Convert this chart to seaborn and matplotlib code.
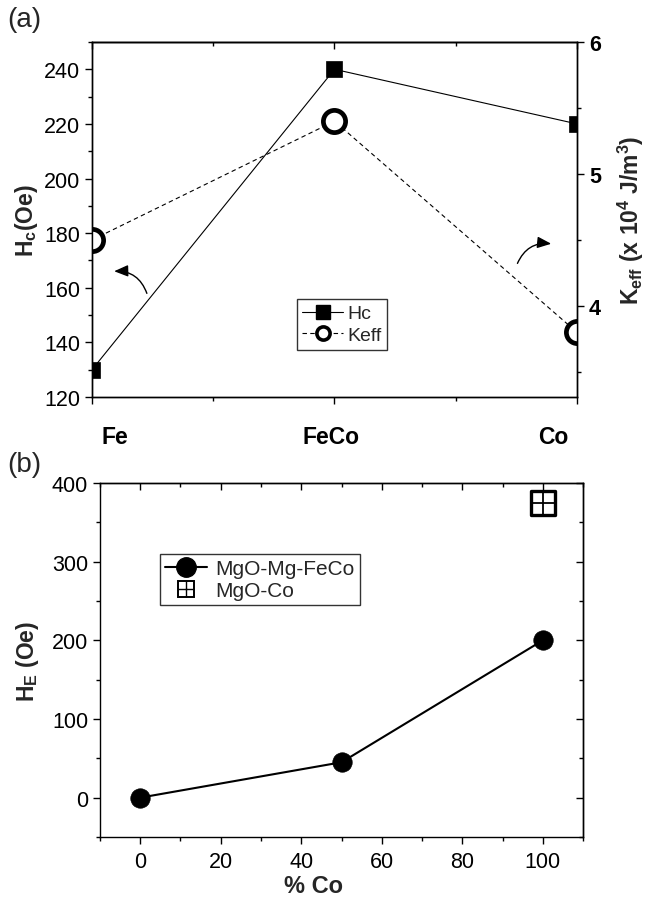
import numpy as np
import matplotlib
matplotlib.use('Agg')
import matplotlib.pyplot as plt
import seaborn as sns
from matplotlib.lines import Line2D
from matplotlib.legend_handler import HandlerTuple
from matplotlib.ticker import MultipleLocator
from matplotlib.transforms import ScaledTranslation

# --- data ---
# panel (a)
samples = ['Fe', 'FeCo', 'Co']
sample_pos = [0, 1, 2]
hc_values = [130, 240, 220]          # Oe
keff_values = [4.5, 5.4, 3.8]        # x 10^4 J/m^3

# panel (b)
co_percent = [0, 50, 100]
he_fecol = [0, 45, 200]              # MgO-Mg-FeCo
co_only_x = [100]
co_only_he = [375]                   # MgO-Co

sns.set_theme(style='ticks')
plt.rcParams['font.family'] = ['Liberation Sans', 'DejaVu Sans']
plt.rcParams['mathtext.fontset'] = 'custom'
plt.rcParams['mathtext.rm'] = 'Liberation Sans'
plt.rcParams['mathtext.bf'] = 'Liberation Sans:bold'
plt.rcParams['mathtext.default'] = 'bf'
plt.rcParams['axes.linewidth'] = 1.0
plt.rcParams['axes.edgecolor'] = 'black'
plt.rcParams['xtick.color'] = 'black'
plt.rcParams['ytick.color'] = 'black'

fig = plt.figure(figsize=(6.45, 9.03), dpi=100)
ax1 = fig.add_axes([0.1426, 0.5592, 0.752, 0.3932])
ax2 = fig.add_axes([0.155, 0.072, 0.749, 0.392])

TICK = 15.5
LABEL = 16.5


def style_ticks(ax, axis, direction, labelsize, major=5, minor=3):
    ax.tick_params(axis=axis, which='major', direction=direction, length=major,
                   width=1.0, labelsize=labelsize, colors='black')
    ax.tick_params(axis=axis, which='minor', direction=direction, length=minor,
                   width=1.0)


# --- panel (a) ---
sns.lineplot(x=sample_pos, y=hc_values, ax=ax1, color='black', linewidth=0.8,
             marker='s', markersize=12, markerfacecolor='black',
             markeredgecolor='black', markeredgewidth=0.5)
ax1.set_xlim(0, 2)
ax1.set_ylim(120, 250)
ax1.set_yticks(np.arange(120, 241, 20))
ax1.yaxis.set_minor_locator(MultipleLocator(10))
ax1.set_xticks(sample_pos)
ax1.set_xticklabels(samples, fontweight='bold', fontsize=16.5)
ax1.xaxis.set_minor_locator(MultipleLocator(0.5))
style_ticks(ax1, 'y', 'out', TICK)
style_ticks(ax1, 'x', 'out', 16.5)
ax1.tick_params(axis='x', which='major', pad=15)
ax1.set_ylabel('H$_c$(Oe)', fontsize=LABEL, fontweight='bold', labelpad=3)
for lbl, dx in zip(ax1.get_xticklabels(), [23, -3, -24]):
    lbl.set_transform(lbl.get_transform() + ScaledTranslation(dx / 100, 0, fig.dpi_scale_trans))

top1 = ax1.secondary_xaxis('top')
top1.set_xticks(sample_pos)
top1.xaxis.set_minor_locator(MultipleLocator(0.5))
top1.set_xticklabels([])
style_ticks(top1, 'x', 'in', 10)

ax1r = ax1.twinx()
sns.lineplot(x=sample_pos, y=keff_values, ax=ax1r, color='black', linewidth=0.8,
             linestyle='--', dashes=False, marker='o', markersize=16,
             markerfacecolor='white', markeredgecolor='black', markeredgewidth=3.4)
for ln in ax1r.get_lines():
    ln.set_dashes((4, 3))
ax1r.set_ylim(3.31, 6)
ax1r.set_yticks([4, 5, 6])
ax1r.yaxis.set_minor_locator(MultipleLocator(0.5))
style_ticks(ax1r, 'y', 'out', TICK)
for lbl in ax1r.get_yticklabels():
    lbl.set_fontweight('bold')
ax1r.set_ylabel('K$_{eff}$ (x 10$^4$ J/m$^3$)', fontsize=LABEL, fontweight='bold',
                rotation=90, labelpad=11)

# curved arrows pointing to the matching axis
ax1r.annotate('', xy=(0.08, 166), xytext=(0.23, 157), xycoords=ax1.transData,
              textcoords=ax1.transData,
              arrowprops=dict(arrowstyle='-|>,head_length=0.6,head_width=0.25',
                              connectionstyle='arc3,rad=0.4',
                              color='black', lw=1.0, mutation_scale=14))
ax1r.annotate('', xy=(1.905, 176), xytext=(1.75, 168), xycoords=ax1.transData,
              textcoords=ax1.transData,
              arrowprops=dict(arrowstyle='-|>,head_length=0.6,head_width=0.25',
                              connectionstyle='arc3,rad=-0.4',
                              color='black', lw=1.0, mutation_scale=14))

h_hc = Line2D([], [], color='black', lw=0.8, marker='s', markersize=10,
              markerfacecolor='black', markeredgecolor='black')
h_keff = Line2D([], [], color='black', lw=0.8, ls=(0, (4, 3)), marker='o', markersize=9.5,
                markerfacecolor='white', markeredgecolor='black', markeredgewidth=2.6)
leg1 = ax1r.legend([h_hc, h_keff], ['Hc', 'Keff'], loc='upper left',
                   bbox_to_anchor=(0.422, 0.276), frameon=True, fancybox=False,
                   edgecolor='black', fontsize=14, handlelength=2.1,
                   handletextpad=0.2, borderpad=0.3, labelspacing=0.2,
                   borderaxespad=0)
leg1.get_frame().set_linewidth(1.0)

# --- panel (b) ---
sns.lineplot(x=co_percent, y=he_fecol, ax=ax2, color='black', linewidth=1.5,
             marker='o', markersize=14, markerfacecolor='black',
             markeredgecolor='black', markeredgewidth=0.5)
sns.scatterplot(x=co_only_x, y=co_only_he, ax=ax2, marker='s', s=300,
                facecolor='white', edgecolor='black', linewidth=2.4, zorder=3)
sns.scatterplot(x=co_only_x, y=co_only_he, ax=ax2, marker='+', s=290,
                color='black', linewidth=1.3, zorder=4)
ax2.set_xlim(-10, 110)
ax2.set_ylim(-50, 400)
ax2.set_xticks(np.arange(0, 101, 20))
ax2.xaxis.set_minor_locator(MultipleLocator(10))
ax2.set_yticks(np.arange(0, 401, 100))
ax2.yaxis.set_minor_locator(MultipleLocator(50))
style_ticks(ax2, 'x', 'out', TICK)
style_ticks(ax2, 'y', 'out', TICK)
ax2.tick_params(axis='x', which='major', pad=5)
ax2.set_xlabel('% Co', fontsize=17, fontweight='bold', labelpad=5)
ax2.xaxis.set_label_coords(0.443, -0.105)
ax2.set_ylabel('H$_E$ (Oe)', fontsize=LABEL, fontweight='bold', labelpad=8)

top2 = ax2.secondary_xaxis('top')
top2.set_xticks(np.arange(0, 101, 20))
top2.xaxis.set_minor_locator(MultipleLocator(10))
top2.set_xticklabels([])
style_ticks(top2, 'x', 'in', 10)
right2 = ax2.secondary_yaxis('right')
right2.set_yticks(np.arange(0, 401, 100))
right2.yaxis.set_minor_locator(MultipleLocator(50))
right2.set_yticklabels([])
style_ticks(right2, 'y', 'in', 10)

h_fe = Line2D([], [], color='black', lw=1.5, marker='o', markersize=14,
              markerfacecolor='black', markeredgecolor='black')
h_sq = Line2D([], [], ls='none', marker='s', markersize=11, markerfacecolor='white',
              markeredgecolor='black', markeredgewidth=1.4)
h_pl = Line2D([], [], ls='none', marker='+', markersize=11, color='black',
              markeredgewidth=1.0)
leg2 = ax2.legend([h_fe, (h_sq, h_pl)], ['MgO-Mg-FeCo', 'MgO-Co'], loc='upper left',
                  bbox_to_anchor=(0.124, 0.80), frameon=True, fancybox=False,
                  edgecolor='black', fontsize=15, handlelength=2.0,
                  handletextpad=0.4, borderpad=0.25, labelspacing=0.15,
                  borderaxespad=0,
                  handler_map={tuple: HandlerTuple(ndivide=1, pad=0)})
leg2.get_frame().set_linewidth(1.0)

fig.text(0.012, 0.978, '(a)', fontsize=20, va='center', ha='left')
fig.text(0.012, 0.485, '(b)', fontsize=20, va='center', ha='left')

fig.savefig('out.png', dpi=100, facecolor='white')
